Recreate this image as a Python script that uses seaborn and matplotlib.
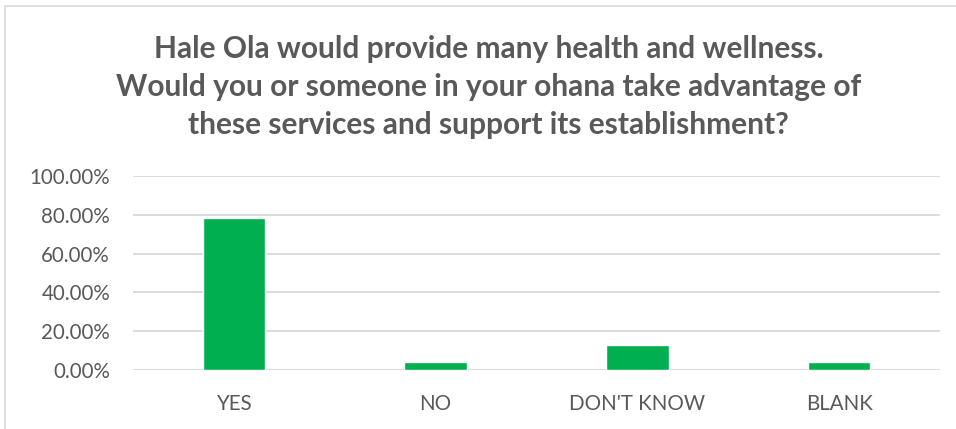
import pandas as pd
import seaborn as sns
import matplotlib.pyplot as plt
from matplotlib.ticker import PercentFormatter
from matplotlib.patches import Rectangle

answers = ["YES", "NO", "DON'T KNOW", "BLANK"]
shares = [0.7826, 0.0435, 0.1304, 0.0435]
y_ticks = [0.0, 0.2, 0.4, 0.6, 0.8, 1.0]

title = ("Hale Ola would provide many health and wellness.\n"
         "Would you or someone in your ohana take advantage of\n"
         "these services and support its establishment?")

df = pd.DataFrame({"answer": answers, "share": shares})

sns.set_style("white")
plt.rcParams["font.family"] = ["Lato", "DejaVu Sans"]

fig = plt.figure(figsize=(9.56, 4.29), dpi=100)
ax = fig.add_axes([133 / 956, 1 - 370 / 429, (940 - 133) / 956, (370 - 176) / 429])

sns.barplot(data=df, x="answer", y="share", color="#00b050", width=0.31,
            saturation=1, ax=ax, zorder=3)

ax.set_ylim(0, 1)
ax.set_yticks(y_ticks)
ax.yaxis.set_major_formatter(PercentFormatter(1.0, decimals=2))
ax.grid(axis="y", color="#d9d9d9", linewidth=1.3, zorder=0)
for s in ax.spines.values():
    s.set_visible(False)
ax.tick_params(axis="both", length=0, labelsize=14.8, labelcolor="#595959")
ax.tick_params(axis="x", pad=17)
ax.tick_params(axis="y", pad=16.5)
ax.set_xlabel("")
ax.set_ylabel("")

fig.text(0.511, 1 - 87 / 429, title, ha="center", va="center", fontsize=21.5,
         fontweight="bold", color="#595959", linespacing=1.42)

# chart border
fig.patches.append(Rectangle((5 / 956, -0.1), 1.1, 1 - 6 / 429 + 0.1,
                             transform=fig.transFigure, fill=False,
                             edgecolor="#d9d9d9", linewidth=1.2))

fig.savefig("out.png", dpi=100)
